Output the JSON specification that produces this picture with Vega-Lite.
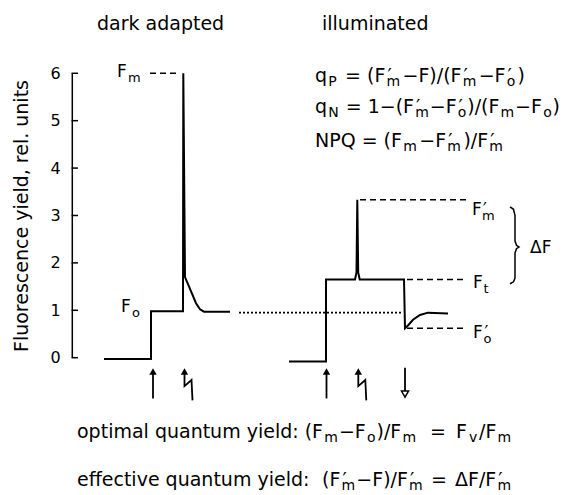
{
  "$schema": "https://vega.github.io/schema/vega-lite/v6.json",
  "width": 563,
  "height": 495,
  "autosize": {"type": "none"},
  "padding": 0,
  "background": "white",
  "config": {"view": {"stroke": null}, "font": "DejaVu Sans"},
  "datasets": {
    "traces": [
      {"series": "dark", "i": 0, "t": 104, "v": -0.03},
      {"series": "dark", "i": 1, "t": 151, "v": -0.03},
      {"series": "dark", "i": 2, "t": 151, "v": 0.98},
      {"series": "dark", "i": 3, "t": 183, "v": 0.98},
      {"series": "dark", "i": 4, "t": 183.3, "v": 6.0},
      {"series": "dark", "i": 5, "t": 185, "v": 1.7},
      {"series": "dark", "i": 6, "t": 188, "v": 1.55},
      {"series": "dark", "i": 7, "t": 192, "v": 1.35},
      {"series": "dark", "i": 8, "t": 196, "v": 1.15},
      {"series": "dark", "i": 9, "t": 200, "v": 1.02},
      {"series": "dark", "i": 10, "t": 204, "v": 0.97},
      {"series": "dark", "i": 11, "t": 230, "v": 0.97},
      {"series": "illum", "i": 0, "t": 289, "v": -0.08},
      {"series": "illum", "i": 1, "t": 326, "v": -0.08},
      {"series": "illum", "i": 2, "t": 326, "v": 1.65},
      {"series": "illum", "i": 3, "t": 355, "v": 1.65},
      {"series": "illum", "i": 4, "t": 356.5, "v": 1.8},
      {"series": "illum", "i": 5, "t": 357.3, "v": 3.33},
      {"series": "illum", "i": 6, "t": 358.2, "v": 1.8},
      {"series": "illum", "i": 7, "t": 359.7, "v": 1.65},
      {"series": "illum", "i": 8, "t": 404, "v": 1.65},
      {"series": "illum", "i": 9, "t": 405, "v": 0.62},
      {"series": "illum", "i": 10, "t": 408, "v": 0.68},
      {"series": "illum", "i": 11, "t": 413, "v": 0.8},
      {"series": "illum", "i": 12, "t": 420, "v": 0.9},
      {"series": "illum", "i": 13, "t": 428, "v": 0.95},
      {"series": "illum", "i": 14, "t": 448, "v": 0.93}
    ],
    "dashed": [
      {"seg": "Fm", "t": 150, "v": 6.0},
      {"seg": "Fm", "t": 178, "v": 6.0},
      {"seg": "Fm2", "t": 360, "v": 3.33},
      {"seg": "Fm2", "t": 467, "v": 3.33},
      {"seg": "Ft", "t": 407, "v": 1.65},
      {"seg": "Ft", "t": 467, "v": 1.65},
      {"seg": "Fo2", "t": 407, "v": 0.62},
      {"seg": "Fo2", "t": 467, "v": 0.62}
    ],
    "dotted": [
      {"t": 239, "v": 0.95},
      {"t": 403, "v": 0.95}
    ],
    "shafts": [
      {"arrow": "up1", "i": 0, "t": 153, "v": -0.3},
      {"arrow": "up1", "i": 1, "t": 153, "v": -0.86},
      {"arrow": "fl1", "i": 0, "t": 184.5, "v": -0.3},
      {"arrow": "fl1", "i": 1, "t": 184.5, "v": -0.6},
      {"arrow": "fl1", "i": 2, "t": 191.5, "v": -0.47},
      {"arrow": "fl1", "i": 3, "t": 192.5, "v": -0.9},
      {"arrow": "up2", "i": 0, "t": 326.5, "v": -0.3},
      {"arrow": "up2", "i": 1, "t": 326.5, "v": -0.86},
      {"arrow": "fl2", "i": 0, "t": 358.3, "v": -0.3},
      {"arrow": "fl2", "i": 1, "t": 358.3, "v": -0.6},
      {"arrow": "fl2", "i": 2, "t": 365.3, "v": -0.47},
      {"arrow": "fl2", "i": 3, "t": 366.3, "v": -0.9},
      {"arrow": "dn", "i": 0, "t": 405, "v": -0.21},
      {"arrow": "dn", "i": 1, "t": 405, "v": -0.72}
    ],
    "heads": [
      {"t": 153, "v": -0.29},
      {"t": 184.5, "v": -0.29},
      {"t": 326.5, "v": -0.29},
      {"t": 358.3, "v": -0.29}
    ],
    "openheads": [
      {"t": 405, "v": -0.77}
    ],
    "brace": [
      {"i": 0, "t": 510, "v": 3.18},
      {"i": 1, "t": 513.5, "v": 3.13},
      {"i": 2, "t": 515, "v": 3.0},
      {"i": 3, "t": 515, "v": 2.46},
      {"i": 4, "t": 516.5, "v": 2.37},
      {"i": 5, "t": 519, "v": 2.335},
      {"i": 6, "t": 516.5, "v": 2.3},
      {"i": 7, "t": 515, "v": 2.21},
      {"i": 8, "t": 515, "v": 1.68},
      {"i": 9, "t": 513.5, "v": 1.6},
      {"i": 10, "t": 510, "v": 1.56}
    ],
    "ticks": [
      {"v": 0}, {"v": 1}, {"v": 2}, {"v": 3}, {"v": 4}, {"v": 5}, {"v": 6}
    ],
    "texts": [
      {"label": "dark adapted", "t": 97, "v": 6.91, "fs": 19},
      {"label": "illuminated", "t": 322, "v": 6.91, "fs": 19},

      {"label": "q", "t": 315, "v": 5.82, "fs": 19},
      {"label": "P", "t": 328.3, "v": 5.736, "fs": 14},
      {"label": "= (F", "t": 345.06, "v": 5.82, "fs": 19},
      {"label": "′", "t": 387.5, "v": 5.82, "fs": 19},
      {"label": "m", "t": 386.56, "v": 5.736, "fs": 14},
      {"label": "−F)/(F", "t": 402.51, "v": 5.82, "fs": 19},
      {"label": "′", "t": 463.6, "v": 5.82, "fs": 19},
      {"label": "m", "t": 462.71, "v": 5.736, "fs": 14},
      {"label": "−F", "t": 478.66, "v": 5.82, "fs": 19},
      {"label": "′", "t": 507.6, "v": 5.82, "fs": 19},
      {"label": "o", "t": 506.71, "v": 5.736, "fs": 14},
      {"label": ")", "t": 517.59, "v": 5.82, "fs": 19},

      {"label": "q", "t": 315, "v": 5.16, "fs": 19},
      {"label": "N", "t": 328.27, "v": 5.076, "fs": 14},
      {"label": "= 1−(F", "t": 345.67, "v": 5.16, "fs": 19},
      {"label": "′", "t": 416.1, "v": 5.16, "fs": 19},
      {"label": "m", "t": 415.18, "v": 5.076, "fs": 14},
      {"label": "−F", "t": 429.71, "v": 5.16, "fs": 19},
      {"label": "′", "t": 458.6, "v": 5.16, "fs": 19},
      {"label": "o", "t": 457.76, "v": 5.076, "fs": 14},
      {"label": ")/(F", "t": 467.22, "v": 5.16, "fs": 19},
      {"label": "m", "t": 500.57, "v": 5.076, "fs": 14},
      {"label": "−F", "t": 515.1, "v": 5.16, "fs": 19},
      {"label": "o", "t": 543.15, "v": 5.076, "fs": 14},
      {"label": ")", "t": 552.61, "v": 5.16, "fs": 19},

      {"label": "NPQ = (F", "t": 315, "v": 4.45, "fs": 19},
      {"label": "m", "t": 403.16, "v": 4.366, "fs": 14},
      {"label": "−F", "t": 419.27, "v": 4.45, "fs": 19},
      {"label": "′", "t": 448.2, "v": 4.45, "fs": 19},
      {"label": "m", "t": 447.32, "v": 4.366, "fs": 14},
      {"label": ")/F", "t": 463.43, "v": 4.45, "fs": 19},
      {"label": "′", "t": 490.3, "v": 4.45, "fs": 19},
      {"label": "m", "t": 489.37, "v": 4.366, "fs": 14},

      {"label": "F", "t": 117, "v": 5.92, "fs": 17},
      {"label": "m", "t": 128, "v": 5.815, "fs": 13},
      {"label": "F", "t": 121, "v": 0.96, "fs": 17},
      {"label": "o", "t": 132, "v": 0.855, "fs": 13},
      {"label": "F", "t": 472, "v": 3.01, "fs": 17},
      {"label": "′", "t": 483, "v": 3.01, "fs": 17},
      {"label": "m", "t": 482, "v": 2.905, "fs": 13},
      {"label": "F", "t": 473, "v": 1.47, "fs": 17},
      {"label": "t", "t": 483.5, "v": 1.365, "fs": 13},
      {"label": "F", "t": 473, "v": 0.42, "fs": 17},
      {"label": "′", "t": 484.5, "v": 0.42, "fs": 17},
      {"label": "o", "t": 483.5, "v": 0.315, "fs": 13},
      {"label": "ΔF", "t": 530, "v": 2.21, "fs": 17},

      {"label": "optimal quantum yield: (F", "t": 77, "v": -1.69, "fs": 19},
      {"label": "m", "t": 324.3, "v": -1.774, "fs": 14},
      {"label": "−F", "t": 338.94, "v": -1.69, "fs": 19},
      {"label": "o", "t": 366.99, "v": -1.774, "fs": 14},
      {"label": ")/F", "t": 376.56, "v": -1.69, "fs": 19},
      {"label": "m", "t": 402.5, "v": -1.774, "fs": 14},
      {"label": "=", "t": 430, "v": -1.69, "fs": 19},
      {"label": "F", "t": 456, "v": -1.69, "fs": 19},
      {"label": "v", "t": 469, "v": -1.774, "fs": 14},
      {"label": "/F", "t": 479, "v": -1.69, "fs": 19},
      {"label": "m", "t": 497.5, "v": -1.774, "fs": 14},

      {"label": "effective quantum yield:", "t": 77, "v": -2.71, "fs": 19},
      {"label": "(F", "t": 322, "v": -2.71, "fs": 19},
      {"label": "′", "t": 342.4, "v": -2.71, "fs": 19},
      {"label": "m", "t": 341.5, "v": -2.794, "fs": 14},
      {"label": "−F)/F", "t": 356.3, "v": -2.71, "fs": 19},
      {"label": "′", "t": 410, "v": -2.71, "fs": 19},
      {"label": "m", "t": 409.1, "v": -2.794, "fs": 14},
      {"label": "=", "t": 431, "v": -2.71, "fs": 19},
      {"label": "ΔF/F", "t": 455, "v": -2.71, "fs": 19},
      {"label": "′", "t": 498.3, "v": -2.71, "fs": 19},
      {"label": "m", "t": 497.4, "v": -2.794, "fs": 14}
    ]
  },
  "layer": [
    {
      "data": {"name": "traces"},
      "mark": {"type": "line", "color": "black", "strokeWidth": 2, "strokeJoin": "miter"},
      "encoding": {
        "x": {"field": "t", "type": "quantitative", "scale": {"domain": [0, 563], "nice": false, "zero": false}, "axis": null},
        "y": {
          "field": "v", "type": "quantitative",
          "scale": {"domain": [-2.897, 7.546], "nice": false, "zero": false},
          "axis": {
            "values": [0, 1, 2, 3, 4, 5, 6],
            "format": "d",
            "offset": -72.3,
            "domain": false,
            "ticks": false,
            "grid": false,
            "labelFont": "DejaVu Sans",
            "labelFontSize": 16,
            "labelColor": "black",
            "labelPadding": 12,
            "title": "Fluorescence yield, rel. units",
            "titleFont": "DejaVu Sans",
            "titleFontSize": 19,
            "titleFontWeight": "normal",
            "titleColor": "black",
            "titleX": -45,
            "titleY": 215.5,
            "titleAngle": -90,
            "titleAlign": "center",
            "titleBaseline": "alphabetic"
          }
        },
        "detail": {"field": "series"},
        "order": {"field": "i", "type": "quantitative"}
      }
    },
    {
      "data": {"values": [{}]},
      "mark": {"type": "rule", "color": "black", "strokeWidth": 1.5},
      "encoding": {
        "x": {"datum": 72.3, "type": "quantitative", "scale": {"domain": [0, 563], "nice": false, "zero": false}},
        "y": {"datum": 0, "type": "quantitative", "scale": {"domain": [-2.897, 7.546], "nice": false, "zero": false}},
        "y2": {"datum": 6}
      }
    },
    {
      "data": {"name": "ticks"},
      "mark": {"type": "rule", "color": "black", "strokeWidth": 1.5},
      "encoding": {
        "x": {"datum": 71.6, "type": "quantitative", "scale": {"domain": [0, 563], "nice": false, "zero": false}},
        "x2": {"datum": 78},
        "y": {"field": "v", "type": "quantitative", "scale": {"domain": [-2.897, 7.546], "nice": false, "zero": false}}
      }
    },
    {
      "data": {"name": "dashed"},
      "mark": {"type": "line", "color": "black", "strokeWidth": 1.5, "strokeDash": [6, 4]},
      "encoding": {
        "x": {"field": "t", "type": "quantitative", "scale": {"domain": [0, 563], "nice": false, "zero": false}},
        "y": {"field": "v", "type": "quantitative", "scale": {"domain": [-2.897, 7.546], "nice": false, "zero": false}},
        "detail": {"field": "seg"}
      }
    },
    {
      "data": {"name": "dotted"},
      "mark": {"type": "line", "color": "black", "strokeWidth": 1.8, "strokeDash": [2, 2]},
      "encoding": {
        "x": {"field": "t", "type": "quantitative", "scale": {"domain": [0, 563], "nice": false, "zero": false}},
        "y": {"field": "v", "type": "quantitative", "scale": {"domain": [-2.897, 7.546], "nice": false, "zero": false}}
      }
    },
    {
      "data": {"name": "shafts"},
      "mark": {"type": "line", "color": "black", "strokeWidth": 1.8},
      "encoding": {
        "x": {"field": "t", "type": "quantitative", "scale": {"domain": [0, 563], "nice": false, "zero": false}},
        "y": {"field": "v", "type": "quantitative", "scale": {"domain": [-2.897, 7.546], "nice": false, "zero": false}},
        "detail": {"field": "arrow"},
        "order": {"field": "i", "type": "quantitative"}
      }
    },
    {
      "data": {"name": "heads"},
      "mark": {"type": "point", "shape": "triangle-up", "filled": true, "color": "black", "size": 55, "opacity": 1},
      "encoding": {
        "x": {"field": "t", "type": "quantitative", "scale": {"domain": [0, 563], "nice": false, "zero": false}},
        "y": {"field": "v", "type": "quantitative", "scale": {"domain": [-2.897, 7.546], "nice": false, "zero": false}}
      }
    },
    {
      "data": {"name": "openheads"},
      "mark": {"type": "point", "shape": "triangle-down", "filled": true, "fill": "white", "stroke": "black", "strokeWidth": 1.5, "size": 50, "opacity": 1},
      "encoding": {
        "x": {"field": "t", "type": "quantitative", "scale": {"domain": [0, 563], "nice": false, "zero": false}},
        "y": {"field": "v", "type": "quantitative", "scale": {"domain": [-2.897, 7.546], "nice": false, "zero": false}}
      }
    },
    {
      "data": {"name": "brace"},
      "mark": {"type": "line", "color": "black", "strokeWidth": 1.5},
      "encoding": {
        "x": {"field": "t", "type": "quantitative", "scale": {"domain": [0, 563], "nice": false, "zero": false}},
        "y": {"field": "v", "type": "quantitative", "scale": {"domain": [-2.897, 7.546], "nice": false, "zero": false}},
        "order": {"field": "i", "type": "quantitative"}
      }
    },
    {
      "data": {"name": "texts"},
      "mark": {"type": "text", "align": "left", "baseline": "alphabetic", "color": "black", "font": "DejaVu Sans"},
      "encoding": {
        "x": {"field": "t", "type": "quantitative", "scale": {"domain": [0, 563], "nice": false, "zero": false}},
        "y": {"field": "v", "type": "quantitative", "scale": {"domain": [-2.897, 7.546], "nice": false, "zero": false}},
        "text": {"field": "label"},
        "size": {"field": "fs", "type": "quantitative", "scale": null}
      }
    }
  ]
}
